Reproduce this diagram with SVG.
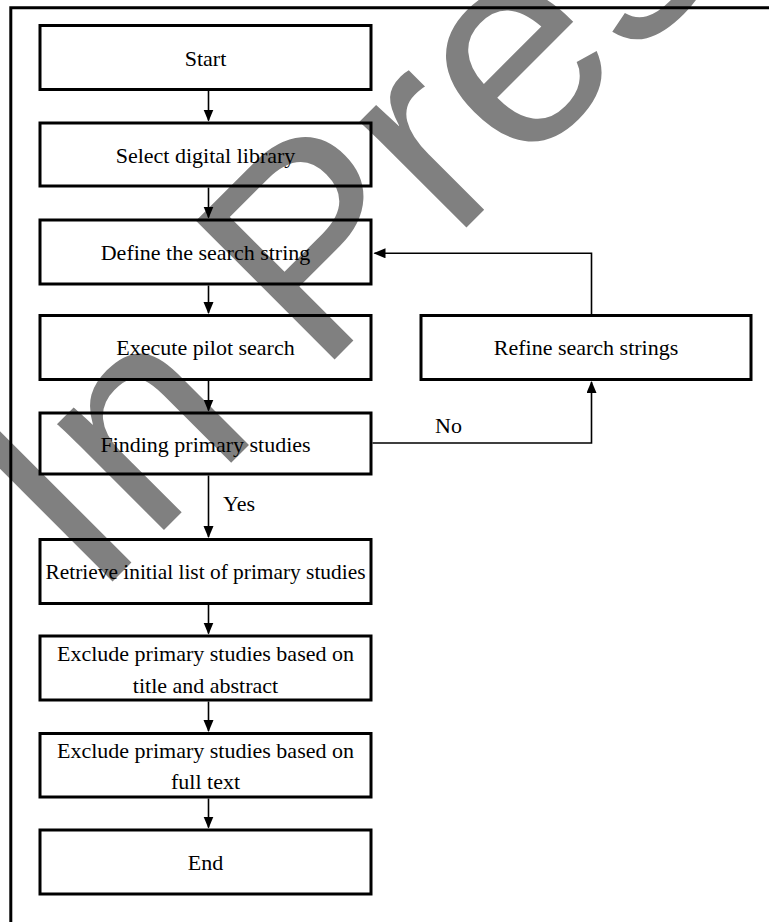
<svg xmlns="http://www.w3.org/2000/svg" width="769" height="922" viewBox="0 0 769 922">
<style>
.box{fill:none;stroke:#000;stroke-width:3}
.lbl{font-family:"Liberation Serif","Times New Roman",serif;font-size:22px;fill:#000;text-anchor:middle}
.el{font-family:"Liberation Serif","Times New Roman",serif;font-size:22px;fill:#000}
.conn{fill:none;stroke:#000;stroke-width:1.6}
.wm{font-family:"Liberation Sans",Arial,sans-serif;font-size:285px;fill:#808080}
</style>
<defs>
<marker id="ah" markerUnits="userSpaceOnUse" markerWidth="13" markerHeight="11" refX="11" refY="5" orient="auto">
<path d="M0,0 L12,5 L0,10 z" fill="#000"/>
</marker>
</defs>
<rect width="769" height="922" fill="#fff"/>
<g id="watermark">
<text class="wm" transform="translate(94,600) rotate(-45)" x="0" y="0">In Press</text>
</g>
<g id="frame">
<path d="M769,7.7 H10.8 V922" fill="none" stroke="#000" stroke-width="3"/>
</g>
<g id="connectors">
<line class="conn" x1="208.5" y1="91" x2="208.5" y2="120.5" marker-end="url(#ah)"/>
<line class="conn" x1="208.5" y1="187.5" x2="208.5" y2="217.5" marker-end="url(#ah)"/>
<line class="conn" x1="208.5" y1="285.5" x2="208.5" y2="313" marker-end="url(#ah)"/>
<line class="conn" x1="208.5" y1="381" x2="208.5" y2="410.5" marker-end="url(#ah)"/>
<line class="conn" x1="208.5" y1="475.5" x2="208.5" y2="537" marker-end="url(#ah)"/>
<line class="conn" x1="208.5" y1="605" x2="208.5" y2="633.5" marker-end="url(#ah)"/>
<line class="conn" x1="208.5" y1="701.5" x2="208.5" y2="731" marker-end="url(#ah)"/>
<line class="conn" x1="208.5" y1="798.5" x2="208.5" y2="827.5" marker-end="url(#ah)"/>
<path class="conn" d="M591.5,314 V253.3 H374.5" marker-end="url(#ah)"/>
<path class="conn" d="M372.5,443 H591.5 V382" marker-end="url(#ah)"/>
<text class="el" x="435" y="433">No</text>
<text class="el" x="223" y="511">Yes</text>
</g>
<g id="start">
<rect class="box" x="40" y="25.5" width="331" height="64"/>
<text class="lbl" x="205.5" y="65.5">Start</text>
</g>
<g id="select-library">
<rect class="box" x="40" y="123" width="331" height="63"/>
<text class="lbl" x="205.5" y="162.5">Select digital library</text>
</g>
<g id="define-search">
<rect class="box" x="40" y="220" width="331" height="64"/>
<text class="lbl" x="205.5" y="259.5">Define the search string</text>
</g>
<g id="execute-pilot">
<rect class="box" x="40" y="315.5" width="331" height="64"/>
<text class="lbl" x="205.5" y="355">Execute pilot search</text>
</g>
<g id="refine">
<rect class="box" x="421" y="315.5" width="330" height="64"/>
<text class="lbl" x="586" y="355">Refine search strings</text>
</g>
<g id="finding">
<rect class="box" x="40" y="413" width="331" height="61"/>
<text class="lbl" x="205.5" y="451.5">Finding primary studies</text>
</g>
<g id="retrieve">
<rect class="box" x="40" y="539.5" width="331" height="64"/>
<text class="lbl" x="205.5" y="579" textLength="320" lengthAdjust="spacingAndGlyphs">Retrieve initial list of primary studies</text>
</g>
<g id="exclude-title">
<rect class="box" x="40" y="636" width="331" height="64"/>
<text class="lbl" x="205.5" y="661">Exclude primary studies based on</text>
<text class="lbl" x="205.5" y="692.5">title and abstract</text>
</g>
<g id="exclude-full">
<rect class="box" x="40" y="733.5" width="331" height="63.5"/>
<text class="lbl" x="205.5" y="758">Exclude primary studies based on</text>
<text class="lbl" x="205.5" y="789">full text</text>
</g>
<g id="end">
<rect class="box" x="40" y="830" width="331" height="64"/>
<text class="lbl" x="205.5" y="869.5">End</text>
</g>
</svg>
